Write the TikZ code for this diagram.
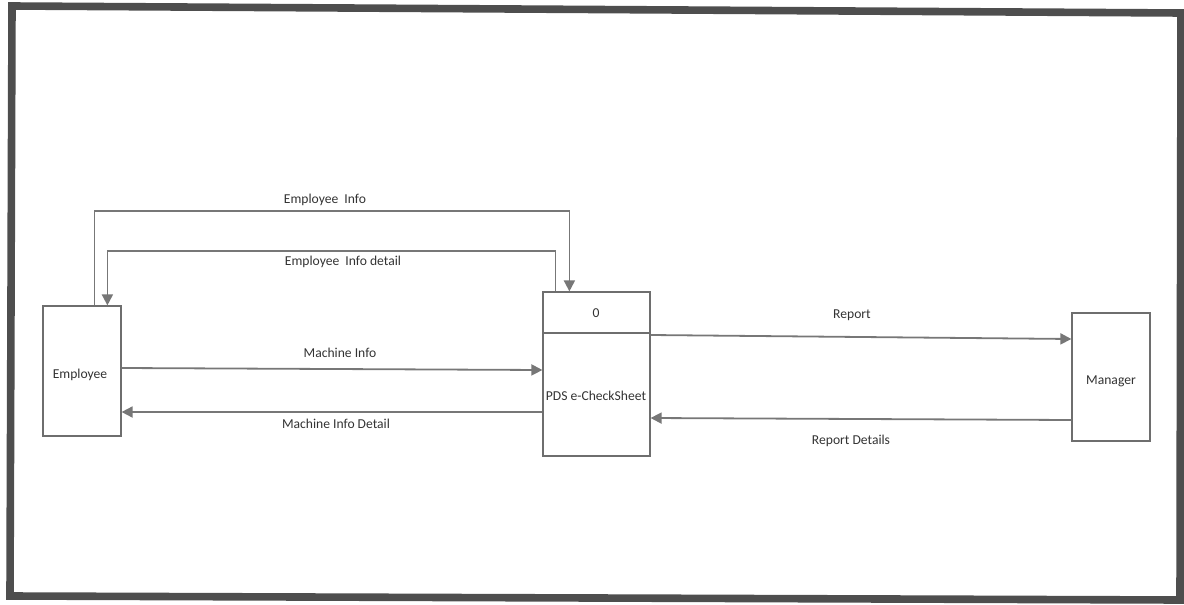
\documentclass[tikz,border=0pt]{standalone}
\usepackage{fontspec}
\setmainfont{Carlito}
\usetikzlibrary{arrows.meta,calc}
\definecolor{frame}{HTML}{4E4E4E}
\definecolor{boxline}{HTML}{6E6E6E}
\definecolor{flow}{HTML}{777777}
\definecolor{txt}{HTML}{333333}
\tikzset{
  entity/.style={draw=boxline,line width=0.6pt,inner sep=0pt,fill=white},
  flowline/.style={draw=flow,line width=0.9pt,-{Triangle[length=5.5pt,width=5.5pt]}},
  lbl/.style={font=\fontsize{6.8}{8}\selectfont,text=txt,inner sep=0pt},
}
\begin{document}
\begin{tikzpicture}[x=0.5pt,y=-0.5pt]
\useasboundingbox (0,0) rectangle (1184,605);
% scanned page border
\draw[frame,line width=3.8pt,line join=miter] (12,6) -- (1181,13) -- (1180,600) -- (10,596) -- cycle;

% external entities and the process
\node[entity,minimum width=39pt,minimum height=65pt] (emp) at (82,371) {};
\node[lbl] (empl) at (80,375) {Employee};
\node[entity,minimum width=53.5pt,minimum height=82pt] (pds) at (596.5,374) {};
\draw[boxline,line width=0.6pt] (pds.west |- 0,333) -- (pds.east |- 0,333);
\node[lbl] (pdsn) at (596,313) {0};
\node[lbl] (pdsl) at (596,396) {PDS e-CheckSheet};
\node[entity,minimum width=39pt,minimum height=64pt] (mgr) at (1111,377) {};
\node[lbl] (mgrl) at (1111,381) {Manager};

% data flows between employee and process
\coordinate (eiA) at ($(emp.north west)+(52,0)$);
\coordinate (eiB) at ($(pds.north west)+(27,0)$);
\draw[flowline] (eiA) -- (eiA |- 0,211) -| (eiB);
\node[lbl] (eil) at (325,200) {Employee\ \ Info};

\coordinate (edA) at ($(pds.north west)+(13,0)$);
\coordinate (edB) at ($(emp.north west)+(65,0)$);
\draw[flowline] (edA) -- (edA |- 0,251) -| (edB);
\node[lbl] (edl) at (343,262) {Employee\ \ Info detail};

\draw[flowline] (emp.east |- 0,368) -- (pds.west |- 0,370);
\node[lbl] (mil) at (340,353) {Machine Info};

\draw[flowline] (pds.west |- 0,412) -- (emp.east |- 0,412);
\node[lbl] (mdl) at (336,424) {Machine Info Detail};

% data flows between process and manager
\draw[flowline] (pds.east |- 0,335) -- (mgr.west |- 0,339);
\node[lbl] (rl) at (852,315) {Report};

\draw[flowline] (mgr.west |- 0,420) -- (pds.east |- 0,418);
\node[lbl] (rdl) at (851,441) {Report Details};
\end{tikzpicture}
\end{document}
